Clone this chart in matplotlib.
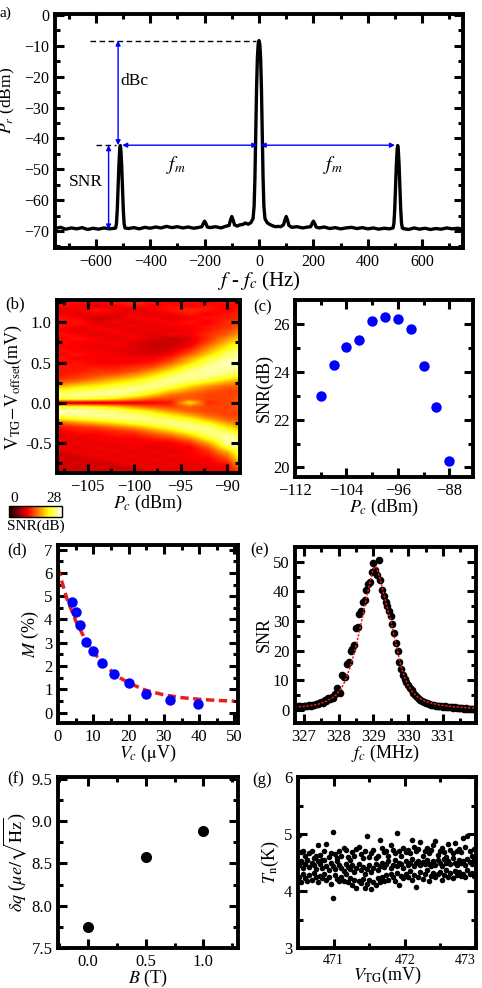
import matplotlib
matplotlib.use("Agg")
import matplotlib.pyplot as plt
from matplotlib.ticker import MultipleLocator

plt.rcParams['font.family'] = ['Liberation Serif', 'DejaVu Serif']
plt.rcParams['mathtext.fontset'] = 'stix'

# ---- (a) spectrum ----
spec_f = [-750, -730, -710, -690, -670, -650, -630, -610, -590, -570, -550, -530,
          -527, -524, -521, -518, -515, -512, -510, -508, -505, -502, -499, -496, -493,
          -480, -460, -440, -420, -400, -380, -360, -340, -320, -300, -280, -260, -240, -220,
          -210, -205, -200, -195, -190, -180, -160, -140, -120,
          -110, -105, -100, -95, -90, -80, -70, -60, -50, -40, -30,
          -22, -18, -15, -12, -9, -6, -3, 0, 3, 6, 9, 12, 15, 18, 22,
          30, 40, 50, 60, 70, 80, 90, 95, 100, 105, 110, 120, 140, 160, 180,
          190, 195, 200, 205, 210,
          220, 240, 260, 280, 300, 320, 340, 360, 380, 400, 420, 440, 460, 480,
          493, 496, 499, 502, 505, 508, 510, 512, 515, 518, 521, 524, 527,
          530, 550, 570, 590, 610, 630, 650, 670, 690, 710, 730, 750]
spec_p = [-69.2, -68.8, -69.4, -69.0, -69.3, -68.9, -69.5, -69.1, -69.4, -69.0, -69.3, -69.1,
          -69.0, -67.5, -63.0, -56.0, -48.5, -43.5, -42.3, -43.5, -48.5, -56.0, -63.0, -67.5, -69.0,
          -69.2, -68.9, -69.3, -68.8, -69.1, -68.7, -69.0, -68.5, -68.9, -68.6, -69.0, -68.7, -69.1, -68.8,
          -68.6, -67.6, -66.8, -67.6, -68.7, -68.9, -68.6, -69.0, -68.4,
          -68.2, -66.5, -65.3, -66.5, -68.0, -68.4, -68.0, -67.9, -67.4, -67.8, -67.3,
          -66.0, -62.0, -53.0, -39.0, -24.0, -14.0, -9.5, -8.3, -9.5, -14.0, -24.0, -39.0, -53.0, -62.0, -66.0,
          -67.3, -67.9, -68.3, -68.6, -68.5, -68.6, -68.0, -66.5, -65.3, -66.5, -68.2, -68.8, -68.6, -69.0, -68.7,
          -68.6, -67.6, -66.8, -67.6, -68.7,
          -69.0, -68.7, -69.2, -68.9, -69.3, -69.0, -68.8, -69.2, -68.9, -69.3, -69.0, -69.4, -69.1, -69.3,
          -69.0, -67.5, -63.0, -56.0, -48.5, -43.5, -42.3, -43.5, -48.5, -56.0, -63.0, -67.5, -69.0,
          -69.2, -69.5, -69.0, -69.4, -69.1, -69.5, -69.2, -69.4, -69.0, -69.3, -69.1, -69.4]

# ---- (b) SNR map, rows from V = 1.25 (top) to -0.85 (bottom), columns Pc = -108..-88 ----
map_pc = [-108, -106, -104, -102, -100, -98, -96, -94, -92, -90, -88]
map_v_top, map_v_bottom = 1.25, -0.85
snr_map = [
    [10, 11, 10, 11, 12, 11, 10, 11, 10, 11, 11],
    [11, 10, 9, 10, 11, 10, 11, 10, 11, 10, 11],
    [9, 10, 11, 10, 9, 10, 11, 12, 11, 10, 12],
    [10, 9, 10, 9, 10, 9, 10, 11, 10, 11, 12],
    [11, 10, 8, 9, 10, 10, 9, 10, 11, 11, 12],
    [10, 11, 9, 10, 9, 10, 10, 11, 10, 12, 13],
    [11, 10, 10, 9, 10, 9, 10, 10, 11, 12, 14],
    [10, 9, 10, 10, 9, 10, 9, 10, 11, 13, 16],
    [11, 10, 9, 10, 10, 9, 10, 10, 12, 14, 18],
    [10, 11, 10, 9, 10, 9, 8, 9, 12, 16, 20],
    [11, 10, 10, 10, 9, 8, 8, 9, 13, 18, 22],
    [10, 10, 9, 10, 9, 8, 8, 10, 15, 20, 24],
    [11, 10, 10, 9, 9, 8, 9, 12, 17, 22, 25],
    [10, 11, 10, 10, 9, 9, 10, 14, 19, 24, 26],
    [11, 10, 10, 10, 10, 10, 12, 17, 22, 25, 26],
    [10, 11, 10, 10, 10, 11, 14, 19, 24, 26, 26],
    [11, 11, 11, 11, 12, 13, 17, 22, 25, 26, 25],
    [11, 11, 12, 12, 13, 16, 20, 24, 26, 25, 24],
    [11, 12, 13, 14, 16, 19, 23, 25, 25, 24, 22],
    [12, 13, 15, 17, 19, 22, 25, 25, 24, 21, 18],
    [14, 16, 18, 20, 22, 24, 25, 23, 20, 17, 15],
    [18, 20, 21, 23, 24, 25, 23, 19, 16, 14, 14],
    [22, 23, 24, 25, 25, 23, 19, 16, 14, 13, 13],
    [24, 25, 25, 25, 23, 19, 15, 14, 13, 13, 13],
    [23, 23, 22, 20, 17, 14, 13, 14, 13, 13, 14],
    [7, 8, 8, 9, 9, 10, 11, 20, 12, 13, 14],
    [22, 22, 21, 19, 16, 14, 13, 14, 13, 13, 14],
    [26, 26, 25, 24, 22, 19, 16, 14, 13, 13, 13],
    [25, 25, 25, 25, 24, 23, 20, 17, 14, 13, 13],
    [20, 22, 23, 24, 25, 24, 23, 21, 17, 14, 13],
    [14, 16, 18, 20, 22, 24, 25, 24, 21, 17, 14],
    [11, 12, 13, 15, 17, 20, 23, 25, 24, 20, 16],
    [10, 11, 11, 12, 13, 16, 19, 23, 25, 23, 19],
    [9, 10, 10, 11, 11, 13, 15, 19, 24, 25, 22],
    [10, 9, 10, 10, 10, 11, 12, 15, 21, 26, 24],
    [9, 10, 9, 10, 10, 10, 10, 12, 17, 25, 26],
    [10, 9, 10, 9, 10, 9, 10, 10, 14, 22, 27],
    [9, 10, 9, 10, 9, 10, 9, 10, 12, 18, 26],
    [8, 9, 10, 9, 10, 9, 10, 10, 11, 15, 25],
    [9, 8, 9, 10, 9, 10, 9, 10, 10, 13, 23],
    [8, 9, 8, 9, 10, 9, 10, 9, 10, 11, 20],
    [9, 8, 9, 8, 9, 10, 9, 10, 9, 10, 17],
    [8, 9, 8, 9, 8, 9, 10, 9, 10, 10, 14],
]

# ---- (c) SNR vs carrier power ----
pc_c = [-108, -106, -104, -102, -100, -98, -96, -94, -92, -90, -88]
snr_c = [22.97, 24.30, 25.05, 25.34, 26.12, 26.27, 26.20, 25.78, 24.26, 22.51, 20.27]

# ---- (d) modulation depth ----
vc_d = [4.0, 5.0, 6.2, 7.9, 10.0, 12.6, 15.8, 20.0, 25.0, 31.6, 39.7]
m_d = [4.75, 4.30, 3.78, 3.03, 2.64, 2.11, 1.67, 1.25, 0.80, 0.53, 0.35]
fit_vc_d = [0, 2.5, 5, 7.5, 10, 12.5, 15, 17.5, 20, 25, 30, 35, 40, 45, 50]
fit_m_d = [6.2, 4.9, 3.95, 3.2, 2.6, 2.15, 1.8, 1.5, 1.27, 0.95, 0.76, 0.64, 0.57, 0.52, 0.49]

# ---- (e) SNR vs carrier frequency ----
fc_e = [326.80, 326.85, 326.90, 326.95, 327.00, 327.05, 327.10, 327.15, 327.20, 327.25,
        327.30, 327.35, 327.40, 327.45, 327.50, 327.55, 327.60, 327.65, 327.70, 327.75,
        327.80, 327.85, 327.90, 327.95, 328.00, 328.05, 328.10, 328.15, 328.20, 328.25,
        328.30, 328.35, 328.40, 328.45, 328.50, 328.55, 328.60, 328.65, 328.70, 328.75,
        328.80, 328.85, 328.90, 328.95, 329.00, 329.05, 329.10, 329.15, 329.20, 329.25,
        329.30, 329.35, 329.40, 329.45, 329.50, 329.55, 329.60, 329.65, 329.70, 329.75,
        329.80, 329.85, 329.90, 329.95, 330.00, 330.05, 330.10, 330.15, 330.20, 330.25,
        330.30, 330.35, 330.40, 330.45, 330.50, 330.55, 330.60, 330.65, 330.70, 330.75,
        330.80, 330.85, 330.90, 330.95, 331.00, 331.05, 331.10, 331.15, 331.20, 331.25,
        331.30, 331.35, 331.40, 331.45, 331.50, 331.55, 331.60, 331.65, 331.70, 331.75,
        331.80, 331.85, 331.90]
snr_e = [1.0, 1.2, 1.3, 0.9, 1.1, 1.4, 1.2, 1.6, 1.3, 1.7,
         1.5, 2.0, 1.8, 2.3, 2.6, 2.4, 3.4, 3.1, 3.8, 3.5,
         4.4, 4.0, 5.2, 7.2, 6.1, 5.8, 11.6, 11.2, 11.0, 15.5,
         16.0, 19.8, 20.5, 22.0, 27.5, 28.0, 32.5, 33.3, 36.5, 37.0,
         40.5, 42.5, 43.0, 46.5, 49.7, 47.3, 45.5, 50.6, 44.0, 40.5,
         38.5, 36.5, 35.0, 33.5, 31.8, 29.0, 26.0, 22.5, 19.8, 16.0,
         13.8, 11.8, 10.3, 9.2, 8.5, 7.5, 6.5, 5.6, 4.8, 4.2,
         3.7, 3.3, 3.0, 2.7, 2.4, 2.1, 1.9, 1.7, 1.5, 1.7,
         1.3, 1.2, 1.4, 1.1, 1.0, 1.2, 0.9, 1.0, 0.8, 1.0,
         0.7, 0.8, 0.6, 0.7, 0.5, 0.6, 0.4, 0.5, 0.3, 0.4,
         0.3, 0.2, 0.3]
fit_fc_e = [326.75, 327.0, 327.2, 327.4, 327.6, 327.8, 327.9, 328.0, 328.1, 328.2,
            328.3, 328.4, 328.5, 328.6, 328.7, 328.8, 328.9, 329.0, 329.05, 329.1,
            329.2, 329.3, 329.4, 329.5, 329.6, 329.7, 329.8, 329.9, 330.0, 330.1,
            330.2, 330.3, 330.4, 330.5, 330.7, 330.9, 331.1, 331.3, 331.5, 331.7, 331.95]
fit_snr_e = [0.9, 1.1, 1.4, 1.8, 2.6, 3.8, 4.7, 5.9, 7.6, 10.0,
             13.3, 17.0, 21.3, 26.5, 32.0, 37.5, 43.0, 47.5, 48.5, 47.8,
             44.0, 39.0, 34.5, 30.0, 25.0, 19.5, 14.5, 10.8, 8.3, 6.5,
             5.1, 4.1, 3.4, 2.8, 2.1, 1.6, 1.3, 1.0, 0.8, 0.7, 0.5]

# ---- (f) charge sensitivity vs field ----
b_f = [0.0, 0.5, 1.0]
dq_f = [7.75, 8.58, 8.88]

# ---- (g) noise temperature vs top-gate voltage ----
vtg_g = [470.51, 470.54, 470.57, 470.60, 470.63, 470.66, 470.69, 470.72, 470.75, 470.78,
         470.81, 470.84, 470.87, 470.90, 470.93, 470.96, 470.99, 471.02, 471.05, 471.08,
         471.11, 471.14, 471.17, 471.20, 471.23, 471.26, 471.29, 471.32, 471.35, 471.38,
         471.41, 471.44, 471.47, 471.50, 471.53, 471.56, 471.59, 471.62, 471.65, 471.68,
         471.71, 471.74, 471.77, 471.80, 471.83, 471.86, 471.89, 471.92, 471.95, 471.98,
         472.01, 472.04, 472.07, 472.10, 472.13, 472.16, 472.19, 472.22, 472.25, 472.28,
         472.31, 472.34, 472.37, 472.40, 472.43, 472.46, 472.49, 472.52, 472.55, 472.58,
         472.61, 472.64, 472.67, 472.70, 472.73, 472.76, 472.79, 472.82, 472.85, 472.88,
         472.91, 472.94, 472.97]
tn_sweep1 = [4.98, 4.68, 4.70, 4.62, 4.55, 4.66, 4.70, 4.58, 4.62, 4.81,
             4.64, 4.55, 4.70, 4.82, 4.60, 4.66, 5.03, 4.65, 4.58, 4.70,
             4.62, 4.75, 4.72, 4.60, 4.55, 4.68, 4.62, 4.74, 4.78, 4.65,
             4.58, 4.70, 4.96, 4.60, 4.66, 4.72, 4.58, 4.62, 4.90, 4.75,
             4.68, 4.70, 4.62, 4.80, 4.72, 4.66, 5.02, 4.70, 4.62, 4.75,
             4.68, 4.72, 4.66, 4.90, 4.78, 4.70, 4.74, 4.86, 4.62, 4.70,
             4.76, 4.66, 4.72, 4.80, 4.88, 4.64, 4.70, 4.75, 4.68, 4.60,
             4.82, 4.72, 4.66, 4.85, 4.70, 4.74, 4.68, 4.93, 4.78, 4.96,
             4.70, 4.62, 4.74]
tn_sweep2 = [4.45, 4.52, 4.40, 4.48, 4.55, 4.42, 4.50, 4.46, 4.38, 4.52,
             4.47, 4.40, 4.55, 4.43, 4.36, 4.50, 4.44, 4.39, 4.52, 4.46,
             4.41, 4.35, 4.48, 4.42, 4.38, 4.45, 4.33, 4.40, 4.47, 4.36,
             4.42, 4.30, 4.38, 4.45, 4.34, 4.40, 4.48, 4.37, 4.44, 4.50,
             4.42, 4.47, 4.53, 4.40, 4.46, 4.55, 4.43, 4.50, 4.47, 4.41,
             4.52, 4.46, 4.50, 4.56, 4.44, 4.49, 4.53, 4.45, 4.51, 4.47,
             4.55, 4.48, 4.43, 4.52, 4.46, 4.54, 4.50, 4.44, 4.56, 4.49,
             4.53, 4.47, 4.58, 4.50, 4.45, 4.55, 4.49, 4.52, 4.46, 4.57,
             4.51, 4.48, 4.54]
tn_sweep3 = [4.25, 4.15, 4.30, 4.22, 4.18, 4.28, 4.20, 4.32, 4.24, 4.16,
             4.27, 4.22, 4.30, 4.19, 4.25, 4.12, 3.87, 4.28, 4.21, 4.17,
             4.24, 4.18, 4.30, 4.15, 4.22, 4.10, 4.20, 4.06, 4.18, 4.14,
             4.21, 4.06, 4.12, 4.19, 4.03, 4.16, 4.10, 4.22, 4.15, 4.25,
             4.18, 4.28, 4.20, 4.30, 4.24, 4.18, 4.32, 4.11, 4.26, 4.22,
             4.30, 4.24, 4.35, 4.19, 4.28, 4.07, 4.25, 4.33, 4.21, 4.29,
             4.36, 4.18, 4.27, 4.32, 4.24, 4.30, 4.34, 4.20, 4.28, 4.37,
             4.25, 4.31, 4.22, 4.35, 4.28, 4.33, 4.26, 4.30, 4.24, 4.36,
             4.29, 4.32, 4.27]

W, H = 482, 988


def box(l, t, r, b):
    return [l / W, 1 - b / H, (r - l) / W, (b - t) / H]


def style(ax, xmaj, xmin, ymaj, ymin, size=11):
    for s in ax.spines.values():
        s.set_linewidth(2.8)
    ax.xaxis.set_major_locator(MultipleLocator(xmaj))
    ax.xaxis.set_minor_locator(MultipleLocator(xmin))
    ax.yaxis.set_major_locator(MultipleLocator(ymaj))
    ax.yaxis.set_minor_locator(MultipleLocator(ymin))
    ax.tick_params(which='both', direction='in', top=True, right=True, width=2.2, labelsize=size)
    ax.tick_params(which='major', length=6.5, pad=4)
    ax.tick_params(which='minor', length=3.8)


fig = plt.figure(figsize=(W / 100, H / 100), dpi=100)

# (a)
ax = fig.add_axes(box(55, 14, 463, 248))
ax.plot(spec_f, spec_p, color='black', lw=2.4)
ax.set_xlim(-750, 750)
ax.set_ylim(-75.5, 0.3)
style(ax, 200, 100, 10, 5, 11.5)
ax.plot([-620, -12], [-8.3, -8.3], color='black', lw=1, dashes=(4, 2.5))
ax.plot([-600, -525], [-42.2, -42.2], color='black', lw=1, dashes=(4, 2.5))
arrow = dict(arrowstyle='<|-|>', color='blue', lw=1, mutation_scale=7, shrinkA=0, shrinkB=0)
ax.annotate('', xy=(-518, -42.2), xytext=(-518, -8.3), arrowprops=arrow)
ax.annotate('', xy=(-553, -69.5), xytext=(-553, -42.2), arrowprops=arrow)
ax.annotate('', xy=(-503, -42.2), xytext=(-6, -42.2), arrowprops=arrow)
ax.annotate('', xy=(6, -42.2), xytext=(500, -42.2), arrowprops=arrow)
ax.text(-457, -21.5, 'dBc', fontsize=12.5, ha='center', va='center')
ax.text(-635, -54.2, 'SNR', fontsize=12.5, ha='center', va='center')
ax.text(-304, -48.5, '$f_m$', fontsize=14, ha='center', va='center')
ax.text(272, -48.5, '$f_m$', fontsize=14, ha='center', va='center')
ax.set_xlabel('$f$ - $f_c$ (Hz)', fontsize=15, labelpad=0)
ax.set_ylabel('$P_r$ (dBm)', fontsize=12.5)
ax.yaxis.set_label_coords(-0.092, 0.63)
fig.text(0.0, 1 - 13 / H, 'a)', fontsize=11, va='center')

# (b)
ax = fig.add_axes(box(57, 300, 240, 473))
step = (map_pc[1] - map_pc[0]) / 2
im = ax.imshow(snr_map, cmap='hot', vmin=0, vmax=28, aspect='auto', interpolation='bilinear',
               extent=[map_pc[0] - step, map_pc[-1] + step, map_v_bottom - 0.025, map_v_top + 0.025])
ax.set_xlim(-108.3, -88.6)
ax.set_ylim(-0.87, 1.275)
style(ax, 5, 2.5, 0.5, 0.25, 12)
ax.set_xlabel('$P_c$ (dBm)', fontsize=13, labelpad=-1)
ax.set_ylabel(r'V$_{\mathrm{TG}}$$-$V$_{\mathrm{offset}}$(mV)', fontsize=13, labelpad=1)
ax.set_yticks([-0.5, 0.0, 0.5, 1.0])
ax.set_yticklabels(['-0.5', '0.0', '0.5', '1.0'])
fig.text(5 / W, 1 - 304 / H, '(b)', fontsize=12, va='center')
cax = fig.add_axes(box(9, 506, 62, 517))
cb = fig.colorbar(im, cax=cax, orientation='horizontal')
cb.set_ticks([])
cb.outline.set_linewidth(1)
fig.text(10 / W, 1 - 499 / H, '0', fontsize=11, va='center')
fig.text(62 / W, 1 - 499 / H, '28', fontsize=11, va='center', ha='right')
fig.text(36 / W, 1 - 526 / H, 'SNR(dB)', fontsize=11, va='center', ha='center')

# (c)
ax = fig.add_axes(box(295, 300, 473, 477))
ax.plot(pc_c, snr_c, 'o', color='blue', ms=7.5, mec='none')
ax.set_xlim(-112, -84.3)
ax.set_ylim(19.6, 27)
style(ax, 8, 4, 2, 1, 12)
ax.set_xlabel('$P_c$ (dBm)', fontsize=13, labelpad=-1)
ax.set_ylabel('SNR(dB)', fontsize=13, labelpad=0)
fig.text(253 / W, 1 - 307 / H, '(c)', fontsize=12, va='center')

# (d)
ax = fig.add_axes(box(58, 545, 238, 723))
ax.plot(fit_vc_d, fit_m_d, color='#e8201c', lw=2.5, dashes=(2.4, 1.3))
ax.plot(vc_d, m_d, 'o', color='blue', ms=7.5, mec='none')
ax.set_xlim(0, 51)
ax.set_ylim(-0.45, 7.2)
style(ax, 10, 5, 1, 0.5, 12)
ax.set_xlabel(r'$V_c$ ($\mathrm{\mu}$V)', fontsize=13, labelpad=-1)
ax.set_ylabel('$M$ (%)', fontsize=13, labelpad=2)
fig.text(7 / W, 1 - 550 / H, '(d)', fontsize=12, va='center')

# (e)
ax = fig.add_axes(box(295, 547, 476, 723))
ax.plot(fc_e, snr_e, 'o', color='black', ms=5.5, mec='none')
ax.plot(fit_fc_e, fit_snr_e, color='#e8201c', lw=1.1, ls=(0, (1.5, 1)))
ax.set_xlim(326.75, 331.95)
ax.set_ylim(-4.5, 55)
style(ax, 1, 0.5, 10, 5, 12)
ax.set_xlabel('$f_c$ (MHz)', fontsize=13, labelpad=-1)
ax.set_ylabel('SNR', fontsize=13, labelpad=0)
fig.text(250 / W, 1 - 550 / H, '(e)', fontsize=12, va='center')

# (f)
ax = fig.add_axes(box(58, 777, 238, 948))
ax.plot(b_f, dq_f, 'o', color='black', ms=8, mec='none')
ax.set_xlim(-0.26, 1.3)
ax.set_ylim(7.5, 9.52)
style(ax, 0.5, 0.25, 0.5, 0.25, 12)
ax.set_xticks([0.0, 0.5, 1.0])
ax.set_xlabel('$B$ (T)', fontsize=13, labelpad=-1)
ax.set_ylabel(r'$\delta q$ ($\mu e/\sqrt{\mathrm{Hz}}$)', fontsize=13, labelpad=2)
fig.text(7 / W, 1 - 779 / H, '(f)', fontsize=12, va='center')

# (g)
ax = fig.add_axes(box(298, 777, 476, 948))
for tn in (tn_sweep1, tn_sweep2, tn_sweep3):
    ax.plot(vtg_g, tn, 'o', color='black', ms=4, mec='none')
ax.set_xlim(470.5, 473.0)
ax.set_ylim(3, 6)
style(ax, 1, 0.5, 1, 0.5, 12)
ax.set_xticks([471, 472, 473])
ax.set_xticklabels(['471', '472', '473'], fontsize=10)
ax.get_xticklabels()[-1].set_horizontalalignment('right')
ax.set_xlabel(r'$V_{\mathrm{TG}}$(mV)', fontsize=13, labelpad=-1)
ax.set_ylabel(r'$T_{\mathrm{n}}$(K)', fontsize=13, labelpad=2)
fig.text(252 / W, 1 - 780 / H, '(g)', fontsize=12, va='center')

fig.savefig('out.png', dpi=100)
